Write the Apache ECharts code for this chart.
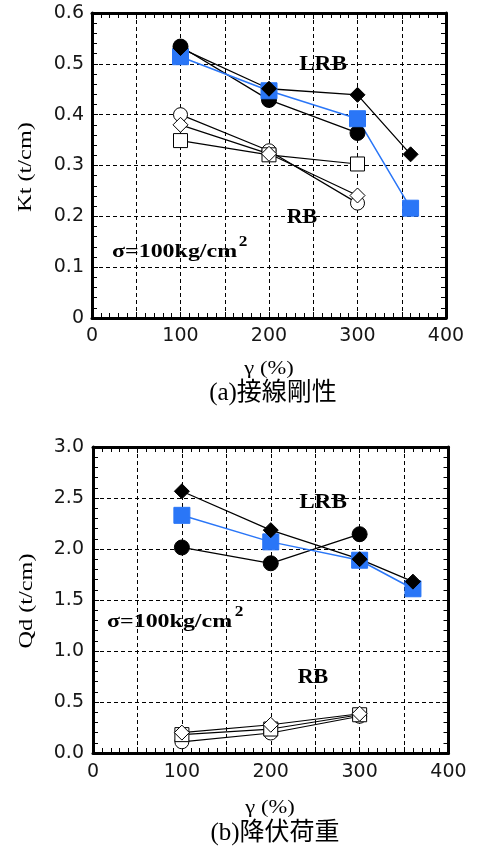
<!DOCTYPE html>
<html>
<head>
<meta charset="utf-8">
<script src="https://cdn.jsdelivr.net/npm/echarts@6/dist/echarts.min.js"></script>
<style>
  html, body { margin: 0; padding: 0; background: #fff; }
  #chart { width: 478px; height: 847px; }
</style>
</head>
<body>
<div id="chart"></div>
<script>
// Shear strain levels (%)
const gamma = [100, 200, 300, 360];

// (a) tangent stiffness Kt (t/cm)
const ktLrbCircle  = [0.534, 0.429, 0.364];
const ktLrbSquare  = [0.514, 0.447, 0.392, 0.216];
const ktLrbDiamond = [0.531, 0.451, 0.439, 0.322];
const ktRbCircle   = [0.400, 0.329, 0.226];
const ktRbSquare   = [0.349, 0.321, 0.303];
const ktRbDiamond  = [0.380, 0.323, 0.241];

// (b) yield load Qd (t/cm)
const qdLrbCircle  = [2.015, 1.86, 2.145];
const qdLrbSquare  = [2.33, 2.07, 1.89, 1.61];
const qdLrbDiamond = [2.566, 2.185, 1.90, 1.68];
const qdRbCircle   = [0.11, 0.196, 0.36];
const qdRbSquare   = [0.18, 0.235, 0.375];
const qdRbDiamond  = [0.20, 0.277, 0.385];

// Axis tick labels
const xTickLabels = ['0', '100', '200', '300', '400'];

const BLUE = '#2a76f7';
const SERIF = '"Liberation Serif", "Times New Roman", serif';
const CJK = '"Liberation Serif", "Noto Sans CJK JP", serif';

const chart = echarts.init(document.getElementById('chart'), null, { renderer: 'canvas' });

const frameLine = { show: true, onZero: false, lineStyle: { color: '#000', width: 3 } };
const tickIn = { show: true, inside: true, length: 6, lineStyle: { color: '#000', width: 1 } };
const minorIn = { show: true, splitNumber: 5, length: 5, lineStyle: { color: '#000', width: 1 } };
const dashGrid = { show: true, lineStyle: { color: '#000', width: 1, type: [4, 3] } };
const labelFont = { color: '#161616', fontFamily: '"DejaVu Sans", sans-serif', fontSize: 19 };

function xAxes(gi, margin) {
  return [
    {
      gridIndex: gi, type: 'value', min: 0, max: 400, interval: 50, position: 'bottom',
      axisLine: frameLine, axisTick: tickIn, minorTick: minorIn, splitLine: dashGrid,
      axisLabel: Object.assign({ margin: margin, formatter: v => (xTickLabels.indexOf(String(v)) >= 0 ? String(v) : '') }, labelFont)
    },
    {
      gridIndex: gi, type: 'value', min: 0, max: 400, interval: 50, position: 'top',
      axisLine: frameLine, axisTick: tickIn, minorTick: minorIn, splitLine: { show: false },
      axisLabel: { show: false }
    }
  ];
}

function yAxes(gi, max, interval, fmt, margin) {
  return [
    {
      gridIndex: gi, type: 'value', min: 0, max: max, interval: interval, position: 'left',
      axisLine: frameLine, axisTick: tickIn, minorTick: minorIn, splitLine: dashGrid,
      axisLabel: Object.assign({ margin: margin, formatter: fmt }, labelFont)
    },
    {
      gridIndex: gi, type: 'value', min: 0, max: max, interval: interval, position: 'right',
      axisLine: frameLine, axisTick: tickIn, minorTick: minorIn, splitLine: { show: false },
      axisLabel: { show: false }
    }
  ];
}

function pts(values) {
  return values.map((v, i) => [gamma[i], v]);
}

// Marker styles
const markers = {
  fCircle:  { symbol: 'circle',  size: 15, fill: '#000', stroke: '#000' },
  fSquare:  { symbol: 'rect',    size: 16, fill: BLUE,   stroke: BLUE },
  fDiamond: { symbol: 'diamond', size: 15, fill: '#000', stroke: '#000' },
  oCircle:  { symbol: 'circle',  size: 14, fill: '#fff', stroke: '#000' },
  oSquare:  { symbol: 'rect',    size: 14, fill: '#fff', stroke: '#000' },
  oDiamond: { symbol: 'diamond', size: 15, fill: '#fff', stroke: '#000' }
};

function lineSeries(gi, values, color, width) {
  return {
    type: 'line', xAxisIndex: gi * 2, yAxisIndex: gi * 2, data: pts(values),
    showSymbol: false, symbol: 'none', z: 2, silent: true,
    lineStyle: { color: color, width: width }
  };
}

function markerSeries(gi, values, m) {
  return {
    type: 'scatter', xAxisIndex: gi * 2, yAxisIndex: gi * 2, data: pts(values),
    symbol: m.symbol, symbolSize: m.size, z: 3, silent: true,
    itemStyle: { color: m.fill, borderColor: m.stroke, borderWidth: 1, opacity: 1 }
  };
}

// Draw order: open RB markers, then filled circle, blue square, filled diamond
const groups = [
  [ktRbCircle, qdRbCircle, 'oCircle', '#000', 1.2],
  [ktRbSquare, qdRbSquare, 'oSquare', '#000', 1.2],
  [ktRbDiamond, qdRbDiamond, 'oDiamond', '#000', 1.2],
  [ktLrbCircle, qdLrbCircle, 'fCircle', '#000', 1.3],
  [ktLrbSquare, qdLrbSquare, 'fSquare', BLUE, 1.5],
  [ktLrbDiamond, qdLrbDiamond, 'fDiamond', '#000', 1.3]
];

const series = [];
groups.forEach(g => {
  series.push(lineSeries(0, g[0], g[3], g[4]));
  series.push(lineSeries(1, g[1], g[3], g[4]));
});
groups.forEach(g => {
  series.push(markerSeries(0, g[0], markers[g[2]]));
  series.push(markerSeries(1, g[1], markers[g[2]]));
});

function txt(x, y, text, font, opts) {
  opts = opts || {};
  return {
    type: 'text', x: x, y: y, z: 10, silent: true,
    rotation: opts.rotation || 0,
    scaleX: opts.scaleX || 1,
    style: {
      text: text, font: font, fill: opts.fill || '#000',
      align: opts.align || 'center', verticalAlign: 'middle',
      textAlign: opts.align || 'center', textVerticalAlign: 'middle'
    }
  };
}

const graphics = [
  // (a)
  txt(323, 65, 'LRB', 'bold 20px ' + SERIF, { scaleX: 1.16 }),
  txt(302, 218, 'RB', 'bold 20px ' + SERIF, { scaleX: 1.1 }),
  txt(112, 252, 'σ=100kg/cm', 'bold 19px ' + SERIF, { align: 'left', scaleX: 1.26 }),
  txt(243, 242, '2', 'bold 15px ' + SERIF, { scaleX: 1.15 }),
  txt(26, 167, 'Kt (t/cm)', '19px ' + SERIF, { rotation: Math.PI / 2, scaleX: 1.28 }),
  txt(269, 369, 'γ (%)', '18px ' + SERIF, { scaleX: 1.25 }),
  txt(273, 393, '(a)接線剛性', '25px ' + CJK),
  // (b)
  txt(323, 503, 'LRB', 'bold 20px ' + SERIF, { scaleX: 1.16 }),
  txt(313, 678, 'RB', 'bold 20px ' + SERIF, { scaleX: 1.1 }),
  txt(107, 622, 'σ=100kg/cm', 'bold 19px ' + SERIF, { align: 'left', scaleX: 1.26 }),
  txt(239, 612, '2', 'bold 15px ' + SERIF, { scaleX: 1.15 }),
  txt(27, 601, 'Qd (t/cm)', '19px ' + SERIF, { rotation: Math.PI / 2, scaleX: 1.28 }),
  txt(270, 808, 'γ (%)', '18px ' + SERIF, { scaleX: 1.25 }),
  txt(275, 833, '(b)降伏荷重', '25px ' + CJK)
];

chart.setOption({
  animation: false,
  backgroundColor: '#fff',
  grid: [
    { left: 92, top: 13, width: 354, height: 305, containLabel: false },
    { left: 93, top: 447, width: 355.5, height: 306, containLabel: false }
  ],
  xAxis: xAxes(0, 9).concat(xAxes(1, 10)),
  yAxis: yAxes(0, 0.6, 0.1, v => (v === 0 ? '0' : v.toFixed(1)), 8)
    .concat(yAxes(1, 3.0, 0.5, v => v.toFixed(1), 9)),
  series: series,
  graphic: graphics
});
</script>
</body>
</html>
